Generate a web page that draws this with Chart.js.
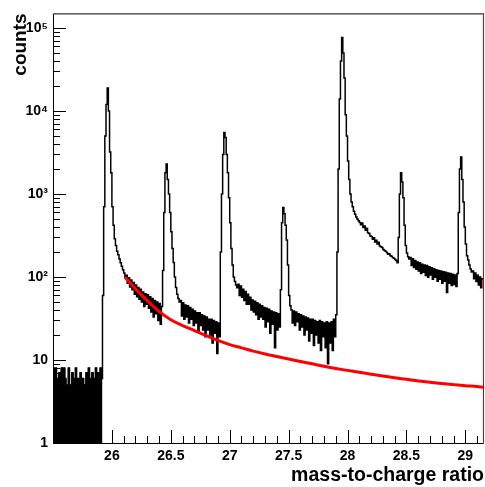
<!DOCTYPE html>
<html>
<head>
<meta charset="utf-8">
<script src="https://cdn.jsdelivr.net/npm/chart.js@4.4.0/dist/chart.umd.min.js"></script>
<style>
  html, body { margin: 0; padding: 0; background: #fff; }
  #wrap { width: 485px; height: 487px; }
</style>
</head>
<body>
<div id="wrap"><canvas id="massChart" width="485" height="487"></canvas></div>
<script>
// histogram: bins of 0.01 starting at 25.50, one row per 0.1
const binStart = 25.5;
const binWidth = 0.01;
const counts = [
  8, 7, 8, 6, 5, 7, 4, 8, 5, 8,                                  // 25.5
  6, 4, 5, 8, 3, 5, 7, 6, 5, 8,                                  // 25.6
  3, 6, 4, 7, 5, 6, 3, 5, 7, 4,                                  // 25.7
  8, 6, 5, 7, 3, 6, 8, 5, 7, 4,                                  // 25.8
  8, 6, 60, 700, 5000, 12000, 19000, 10000, 3200, 1800,          // 25.9
  700, 420, 290, 240, 205, 185, 165, 148, 135, 122,              // 26.0
  112, 100, 105, 84, 98, 76, 92, 70, 86, 62,                     // 26.1
  80, 58, 75, 54, 71, 50, 66, 44, 63, 47,                        // 26.2
  61, 42, 58, 38, 55, 33, 52, 36, 50, 30,                        // 26.3
  48, 27, 44, 120, 600, 1800, 2300, 1500, 1000, 600,             // 26.4
  350, 220, 150, 100, 75, 62, 55, 50, 52, 34,                    // 26.5
  49, 31, 46, 33, 45, 28, 43, 31, 41, 26,                        // 26.6
  39, 28, 37, 22, 37, 26, 35, 23, 34, 19,                        // 26.7
  33, 23, 31, 20, 31, 16, 30, 21, 29, 12,                        // 26.8
  28, 19, 200, 1000, 3000, 5500, 4800, 3000, 1800, 900,          // 26.9
  450, 220, 140, 100, 88, 80, 74, 82, 60, 78,                    // 27.0
  57, 71, 52, 67, 47, 62, 47, 57, 40, 53,                        // 27.1
  38, 51, 35, 49, 31, 47, 33, 45, 31, 43,                        // 27.2
  25, 42, 29, 41, 21, 39, 27, 38, 14, 37,                        // 27.3
  23, 36, 25, 70, 450, 690, 580, 420, 280, 140,                  // 27.4
  60, 45, 40, 28, 39, 26, 38, 29, 36, 23,                        // 27.5
  35, 25, 34, 20, 33, 23, 32, 17, 31, 21,                        // 27.6
  31, 15, 30, 20, 29, 16, 30, 13, 29, 19,                        // 27.7
  28, 14, 29, 9, 28, 16, 29, 13, 31, 19,                         // 27.8
  35, 200, 2000, 14000, 40000, 77000, 50000, 25000, 9000, 5000,  // 27.9
  2500, 1500, 1000, 800, 700, 620, 570, 530, 500, 475,           // 28.0
  455, 425, 448, 395, 412, 365, 388, 342, 335, 312,              // 28.1
  308, 285, 298, 265, 278, 250, 262, 236, 232, 226,              // 28.2
  214, 208, 204, 198, 188, 190, 180, 178, 172, 168,              // 28.3
  162, 158, 148, 300, 1000, 1800, 1400, 900, 420, 240,           // 28.4
  195, 175, 165, 172, 138, 166, 130, 158, 124, 152,              // 28.5
  118, 148, 110, 142, 114, 140, 104, 138, 99, 133,               // 28.6
  106, 129, 94, 126, 99, 122, 89, 120, 94, 118,                  // 28.7
  84, 116, 89, 114, 65, 112, 84, 110, 79, 108,                   // 28.8
  81, 106, 77, 110, 600, 2000, 2800, 1500, 800, 400,             // 28.9
  250, 180, 160, 140, 125, 115, 118, 95, 112, 88,                // 29.0
  105, 80, 100, 74, 95                                           // 29.1
];
const lowBins = 42; // below the first peak the histogram is drawn solid

// background fit (red curve)
const fitX = [26.11, 26.2, 26.3, 26.4, 26.5, 26.6, 26.7, 26.8, 26.9, 27.0,
  27.1, 27.2, 27.3, 27.4, 27.5, 27.6, 27.7, 27.8, 27.9, 28.0,
  28.1, 28.2, 28.3, 28.4, 28.5, 28.6, 28.7, 28.8, 28.9, 29.0, 29.1, 29.15];
const fitY = [100, 72, 52, 38.5, 30.5, 26, 22.6, 19.7, 17.2, 15.3,
  14.0, 12.8, 11.8, 11.0, 10.3, 9.6, 9.0, 8.4, 7.9, 7.5,
  7.1, 6.75, 6.4, 6.1, 5.85, 5.6, 5.4, 5.2, 5.05, 4.9, 4.78, 4.7];

const xTickValues = [26, 26.5, 27, 27.5, 28, 28.5, 29];
const xTickLabels = ["26", "26.5", "27", "27.5", "28", "28.5", "29"];
const yTickValues = [1, 10, 100, 1000, 10000, 100000];
const yTickLabels = ["1", "10", "10\u00b2", "10\u00b3", "10\u2074", "10\u2075"];

const xMin = 25.5, xMax = 29.15, yMin = 1, yMax = 1.5e5;
const FONT = "'Liberation Sans', Arial, Helvetica, sans-serif";

const histPoints = counts.map((c, i) => ({ x: binStart + i * binWidth, y: c }));
histPoints.push({ x: binStart + counts.length * binWidth, y: counts[counts.length - 1] });
const lowPoints = histPoints.slice(0, lowBins);
lowPoints.push({ x: binStart + lowBins * binWidth, y: counts[lowBins - 1] });
const fitPoints = fitX.map((x, i) => ({ x: x, y: fitY[i] }));

// ROOT style frame: ticks inside, axis titles at the ends
const rootFrame = {
  id: "rootFrame",
  afterDraw(chart) {
    const { ctx, chartArea: a, scales } = chart;
    const xs = scales.x, ys = scales.y;
    ctx.save();
    ctx.strokeStyle = "#000";
    ctx.lineWidth = 1;
    ctx.beginPath();
    for (let k = 0; k <= 5; k++) {
      for (let m = 1; m <= 9; m++) {
        const v = m * Math.pow(10, k);
        if (v > yMax) break;
        const py = Math.round(ys.getPixelForValue(v)) + 0.5;
        const len = m === 1 ? 13 : 7;
        ctx.moveTo(a.left, py);
        ctx.lineTo(a.left + len, py);
      }
    }
    for (let t = 256; t <= 291; t++) {
      const v = t / 10;
      const px = Math.round(xs.getPixelForValue(v)) + 0.5;
      const len = t % 5 === 0 ? 13 : 7;
      ctx.moveTo(px, a.bottom);
      ctx.lineTo(px, a.bottom - len);
    }
    ctx.stroke();

    ctx.beginPath();
    ctx.moveTo(a.right + 0.5, a.top + 0.5);
    ctx.lineTo(a.left + 0.5, a.top + 0.5);
    ctx.lineTo(a.left + 0.5, a.bottom + 0.5);
    ctx.lineTo(a.right + 0.5, a.bottom + 0.5);
    ctx.stroke();
    ctx.strokeStyle = "#cc0000";
    ctx.beginPath();
    ctx.moveTo(a.right + 0.5, a.top);
    ctx.lineTo(a.right + 0.5, a.bottom + 1);
    ctx.stroke();

    ctx.fillStyle = "#000";
    ctx.font = "bold 19.5px " + FONT;
    ctx.textAlign = "right";
    ctx.textBaseline = "alphabetic";
    ctx.fillText("mass-to-charge ratio", a.right + 1, 481);
    ctx.translate(26, a.top);
    ctx.rotate(-Math.PI / 2);
    ctx.font = "bold 19px " + FONT;
    ctx.fillText("counts", 0, 0);
    ctx.restore();
  }
};

const ctx = document.getElementById("massChart").getContext("2d");
new Chart(ctx, {
  type: "line",
  data: {
    datasets: [
      {
        data: fitPoints,
        borderColor: "#ff0000",
        borderWidth: 3,
        pointRadius: 0,
        tension: 0.4,
        cubicInterpolationMode: "monotone",
      },
      {
        data: histPoints,
        borderColor: "#000",
        borderWidth: 1.5,
        pointRadius: 0,
        stepped: true,
      },
      {
        data: lowPoints,
        borderColor: "#000",
        borderWidth: 1,
        backgroundColor: "#000",
        pointRadius: 0,
        stepped: true,
        fill: "start",
      },
    ],
  },
  options: {
    responsive: false,
    animation: false,
    events: [],
    layout: { padding: { top: 13, right: 2, left: 0, bottom: 0 } },
    plugins: {
      legend: { display: false },
      tooltip: { enabled: false },
    },
    scales: {
      x: {
        type: "linear",
        min: xMin,
        max: xMax,
        grid: { display: false, drawTicks: false },
        border: { display: false },
        afterBuildTicks: (s) => { s.ticks = xTickValues.map((v) => ({ value: v })); },
        afterFit: (s) => { s.height = 44; },
        ticks: {
          autoSkip: false,
          maxRotation: 0,
          padding: 5,
          color: "#000",
          font: { family: FONT, size: 14, weight: "bold" },
          callback: (v, i) => xTickLabels[i],
        },
      },
      y: {
        type: "logarithmic",
        min: yMin,
        max: yMax,
        grid: { display: false, drawTicks: false },
        border: { display: false },
        afterBuildTicks: (s) => { s.ticks = yTickValues.map((v) => ({ value: v })); },
        afterFit: (s) => { s.width = 53; },
        ticks: {
          autoSkip: false,
          padding: 5,
          color: "#000",
          font: { family: FONT, size: 14, weight: "bold" },
          callback: (v, i) => yTickLabels[i],
        },
      },
    },
  },
  plugins: [rootFrame],
});
</script>
</body>
</html>
